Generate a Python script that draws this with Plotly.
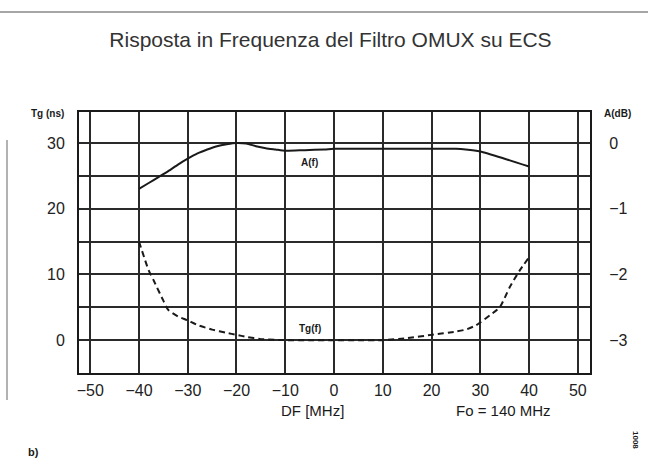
import plotly.graph_objects as go

# ---- data ----
x_ticks = [-50, -40, -30, -20, -10, 0, 10, 20, 30, 40, 50]
x_ticktext = ["\u221250", "\u221240", "\u221230", "\u221220", "\u221210", "0", "10", "20", "30", "40", "50"]
tg_ticks = [0, 10, 20, 30]
a_ticks = [-3, -2, -1, 0]
a_ticktext = ["\u22123", "\u22122", "\u22121", "0"]

x_A = [-40, -38, -36, -34, -32, -30, -28, -26, -24, -22, -20, -18, -16, -14, -12, -10,
       -6, -2, 0, 5, 10, 15, 20, 25, 27, 30, 35, 40]
A_vals = [-0.70, -0.61, -0.52, -0.43, -0.33, -0.24, -0.16, -0.10, -0.05, -0.02, 0.00, -0.01,
          -0.05, -0.08, -0.10, -0.12, -0.11, -0.10, -0.09, -0.09, -0.09, -0.09, -0.09, -0.09,
          -0.10, -0.13, -0.24, -0.36]

x_Tg = [-40, -38, -37, -35, -34, -32, -30, -28, -25, -22, -20, -18, -15, -12, -10, -5, 0,
        5, 10, 15, 20, 25, 27, 29, 30, 32, 34, 36, 38, 40]
Tg_vals = [15.0, 10.6, 9.1, 6.0, 4.6, 3.6, 3.0, 2.3, 1.6, 1.1, 0.8, 0.5, 0.15, 0.05, 0.0, 0.0,
           0.0, 0.0, 0.0, 0.3, 0.8, 1.3, 1.6, 2.2, 2.7, 3.8, 5.0, 8.0, 10.5, 12.6]

FONT = "Liberation Sans"
INK = "#1a1a1a"

fig = go.Figure()
fig.add_trace(go.Scatter(x=x_A, y=A_vals, mode="lines", yaxis="y2",
                         line=dict(color=INK, width=2, shape="spline", smoothing=0.6),
                         showlegend=False, name="A(f)"))
fig.add_trace(go.Scatter(x=x_Tg, y=Tg_vals, mode="lines",
                         line=dict(color=INK, width=2, dash="6px,4px", shape="spline", smoothing=0.6),
                         showlegend=False, name="Tg(f)"))

grid = dict(gridcolor="#2a2a2a", gridwidth=1.6)
fig.update_layout(
    width=648, height=458,
    margin=dict(l=79, r=58, t=112, b=85),
    paper_bgcolor="white", plot_bgcolor="white",
    font=dict(family=FONT, color="#222", size=16),
    title=dict(text="Risposta in Frequenza del Filtro OMUX su ECS", x=0.51, xanchor="center",
               y=1 - 40 / 458, yanchor="middle", font=dict(size=21, family=FONT, color="#333")),
    xaxis=dict(range=[-52.3, 52.5], tickvals=x_ticks, ticktext=x_ticktext, showgrid=True,
               ticks="outside", ticklen=2, tickcolor="rgba(0,0,0,0)",
               showline=True, mirror=True, linecolor=INK, linewidth=2, zeroline=False, **grid),
    yaxis=dict(range=[-5, 34.7], tickvals=tg_ticks, showgrid=True,
               ticks="outside", ticklen=9, tickcolor="rgba(0,0,0,0)",
               minor=dict(dtick=5, showgrid=True, gridcolor="#2a2a2a", gridwidth=1.6),
               showline=True, mirror=True, linecolor=INK, linewidth=2, zeroline=False, **grid),
    yaxis2=dict(range=[-3.5, 0.47], overlaying="y", side="right", tickvals=a_ticks,
                ticktext=a_ticktext, showgrid=False, zeroline=False,
                ticks="outside", ticklen=14, tickcolor="rgba(0,0,0,0)",
                showline=True, linecolor=INK, linewidth=2),
)

def pa(px, py, text, size=11, bold=False, **kw):
    t = f"<b>{text}</b>" if bold else text
    fig.add_annotation(x=(px - 79) / 511, y=(373 - py) / 261, xref="paper", yref="paper",
                       xanchor="center", yanchor="middle",
                       text=t, showarrow=False, font=dict(size=size, family=FONT, color=INK), **kw)

pa(47, 113, "Tg (ns)", size=10, bold=True)
pa(617, 113, "A(dB)", size=10, bold=True)
pa(312, 410, "DF [MHz]", size=15)
pa(503, 410, "Fo = 140 MHz", size=15)
pa(33, 452, "b)", size=11, bold=True)
pa(636, 440, "1008", size=8, bold=True, textangle=90)

# curve labels in data coordinates
fig.add_annotation(x=-5, y=27.0, text="<b>A(f)</b>", showarrow=False,
                   font=dict(size=10, family=FONT, color=INK))
fig.add_annotation(x=-5, y=1.7, text="<b>Tg(f)</b>", showarrow=False,
                   font=dict(size=10, family=FONT, color=INK))

# scan border decorations
fig.add_shape(type="line", xref="paper", yref="paper", x0=-79 / 511, x1=(648 - 79) / 511,
              y0=(373 - 12) / 261, y1=(373 - 12) / 261, line=dict(color="#888", width=1.5))
fig.add_shape(type="line", xref="paper", yref="paper", x0=(7 - 79) / 511, x1=(7 - 79) / 511,
              y0=(373 - 140) / 261, y1=(373 - 400) / 261, line=dict(color="#999", width=1.5))

fig.write_html("out.html")
